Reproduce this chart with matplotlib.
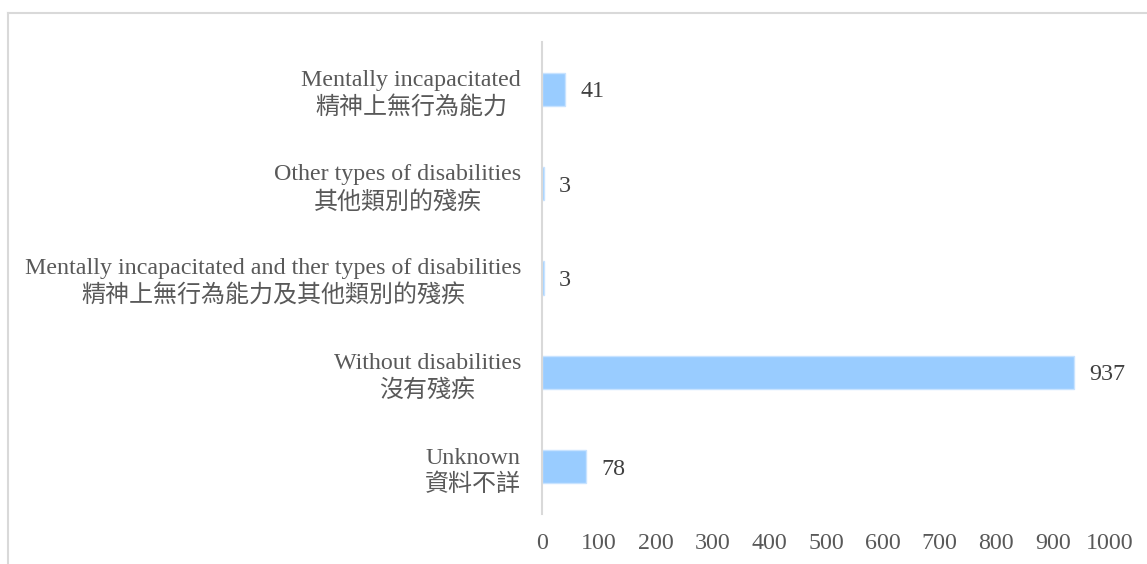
import matplotlib
matplotlib.use("Agg")
import matplotlib.pyplot as plt
from matplotlib.lines import Line2D

categories = [
    "Mentally incapacitated\n精神上無行為能力",
    "Other types of disabilities\n其他類別的殘疾",
    "Mentally incapacitated and ther types of disabilities\n精神上無行為能力及其他類別的殘疾",
    "Without disabilities\n沒有殘疾",
    "Unknown\n資料不詳",
]
values = [41, 3, 3, 937, 78]
xticks = [0, 100, 200, 300, 400, 500, 600, 700, 800, 900, 1000]

FAM = ["Liberation Serif", "Noto Sans CJK TC", "DejaVu Sans"]
plt.rcParams["font.family"] = FAM

FS = 17.3

fig = plt.figure(figsize=(11.47, 5.64), dpi=100)
ax = fig.add_axes([542/1147, 1-514/564, (1110-542)/1147, (514-42)/564])

ypos = list(range(len(categories)))
ax.barh(ypos, values, height=0.35, color="#99CCFF", edgecolor="#C8E3FF", linewidth=1, zorder=2)
ax.set_ylim(len(categories)-0.5, -0.5)
ax.set_xlim(0, 1000)
ax.set_yticks(ypos)
ax.set_yticklabels(categories)
ax.set_xticks(xticks)
ax.set_xticklabels([str(t) for t in xticks])
for t in ax.get_yticklabels():
    t.set_multialignment("center")
    t.set_fontsize(FS)
    t.set_color("#595959")
    t.set_linespacing(1.3)
for t in ax.get_xticklabels():
    t.set_fontsize(FS)
    t.set_color("#595959")
ax.tick_params(axis="y", length=0, pad=15)
ax.tick_params(axis="x", length=0, pad=14)

for s in ["top", "right", "bottom"]:
    ax.spines[s].set_visible(False)
ax.spines["left"].set_color("#D9D9D9")
ax.spines["left"].set_linewidth(1.5)
ax.spines["left"].set_zorder(3)

for y, v in zip(ypos, values):
    ax.annotate(str(v), xy=(v, y), xytext=(11, 0), textcoords="offset points",
                ha="left", va="center_baseline", fontsize=FS, color="#404040")

# outer frame (clipped at right/bottom)
fig.add_artist(Line2D([8/1147, 1.0], [1-13/564, 1-13/564], color="#D9D9D9", lw=1.5, transform=fig.transFigure))
fig.add_artist(Line2D([8/1147, 8/1147], [1-13/564, 0.0], color="#D9D9D9", lw=1.5, transform=fig.transFigure))

fig.savefig("out.png", dpi=100, facecolor="white")
